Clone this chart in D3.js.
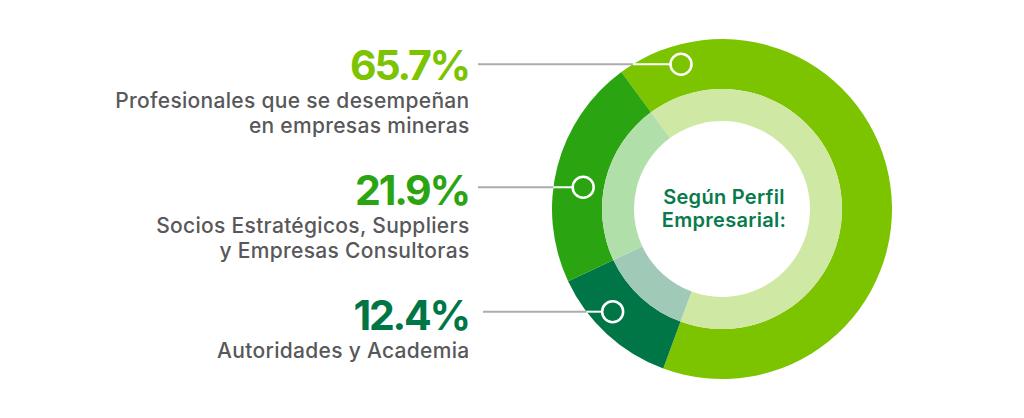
<!DOCTYPE html>
<html><head><meta charset="utf-8">
<script src="https://cdn.jsdelivr.net/npm/d3@7"></script>
<style>html,body{margin:0;padding:0;background:#fff;}svg{display:block;}</style>
</head><body>
<svg id="chart" width="1024" height="418"></svg>
<script>
// Data (clockwise order around the ring)
const categories = ["Profesionales que se desempeñan en empresas mineras", "Autoridades y Academia", "Socios Estratégicos, Suppliers y Empresas Consultoras"];
const values = [65.7, 12.4, 21.9];
const valueLabels = ["65.7%", "12.4%", "21.9%"];
const labelLines = [["Profesionales que se desempeñan", "en empresas mineras"], ["Autoridades y Academia"], ["Socios Estratégicos, Suppliers", "y Empresas Consultoras"]];
const centerTitle = ["Según Perfil", "Empresarial:"];
const colors = ["#7cc300", "#007646", "#2ba412"];
const lightColors = ["#cfe8a3", "#a0c9b8", "#b1dfa9"];

const svg = d3.select("#chart");
const cx = 722, cy = 209;
const rOuter = 170, rMid = 120, rInner = 88;
const start = -36.3 * Math.PI / 180;

const pie = d3.pie().sort(null).value(d => d).startAngle(start).endAngle(start + 2 * Math.PI);
const arcs = pie(values);
const g = svg.append("g").attr("transform", `translate(${cx},${cy})`);
const outerArc = d3.arc().innerRadius(rMid).outerRadius(rOuter);
const innerArc = d3.arc().innerRadius(rInner).outerRadius(rMid);
g.selectAll("path.o").data(arcs).join("path").attr("class", "o").attr("d", outerArc).attr("fill", (d, i) => colors[i]);
g.selectAll("path.i").data(arcs).join("path").attr("class", "i").attr("d", innerArc).attr("fill", (d, i) => lightColors[i]);

// Center text
g.selectAll("text.c").data(centerTitle).join("text").attr("class", "c")
  .attr("x", 2).attr("y", (d, i) => -5 + i * 23)
  .attr("text-anchor", "middle").attr("font-family", "Inter, sans-serif")
  .attr("font-weight", 600).attr("font-size", 20).attr("letter-spacing", 0.3).attr("fill", "#087a4c")
  .text(d => d);

// Callouts: angle in degrees clockwise from 12 o'clock, radius
const calloutAngle = [-15.8, -133.2, -81.1];
const calloutRadius = [150.5, 150, 140.5];
const pctBaseline = [80, 330, 205];
const textRight = 469;
const lineStart = [478, 483, 478];

arcs.forEach((a, i) => {
  const ang = calloutAngle[i] * Math.PI / 180;
  const px = cx + calloutRadius[i] * Math.sin(ang);
  const py = cy - calloutRadius[i] * Math.cos(ang);
  const dy = py - cy;
  const edgeX = cx - Math.sqrt(rOuter * rOuter - dy * dy);
  svg.append("line").attr("x1", lineStart[i]).attr("x2", edgeX).attr("y1", py).attr("y2", py)
    .attr("stroke", "#ababb3").attr("stroke-width", 2);
  svg.append("line").attr("x1", edgeX).attr("x2", px - 11).attr("y1", py).attr("y2", py)
    .attr("stroke", "#fff").attr("stroke-width", 2);
  svg.append("circle").attr("cx", px).attr("cy", py).attr("r", 10.5)
    .attr("fill", "none").attr("stroke", "#fff").attr("stroke-width", 2.5);

  svg.append("text").attr("x", textRight).attr("y", pctBaseline[i]).attr("text-anchor", "end")
    .attr("font-family", "Inter, sans-serif").attr("font-weight", 700).attr("font-size", 41)
    .attr("letter-spacing", -2.2).attr("fill", colors[i]).text(valueLabels[i]);
  labelLines[i].forEach((ln, j) => {
    svg.append("text").attr("x", textRight + 0.5).attr("y", pctBaseline[i] + 28 + j * 25).attr("text-anchor", "end")
      .attr("font-family", "Inter, sans-serif").attr("font-weight", 500).attr("font-size", 21)
      .attr("letter-spacing", 0.3).attr("fill", "#58585a").text(ln);
  });
});
</script>
</body></html>
